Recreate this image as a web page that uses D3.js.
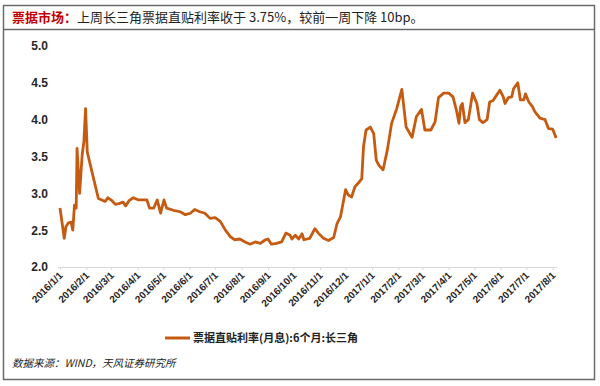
<!DOCTYPE html>
<html><head><meta charset="utf-8">
<script src="https://cdn.jsdelivr.net/npm/d3@7"></script>
<style>
body{margin:0;background:#fff;}
svg{display:block;}
</style></head>
<body>
<svg id="c" width="600" height="386"></svg>
<script>
const dates = ["2016-01-01","2016-01-06","2016-01-08","2016-01-11","2016-01-14","2016-01-16","2016-01-18","2016-01-20","2016-01-21","2016-01-24","2016-01-27","2016-01-29","2016-01-31","2016-02-02","2016-02-15","2016-02-19","2016-02-23","2016-02-26","2016-03-02","2016-03-06","2016-03-10","2016-03-15","2016-03-18","2016-03-22","2016-03-27","2016-04-02","2016-04-12","2016-04-15","2016-04-20","2016-04-24","2016-04-28","2016-05-02","2016-05-05","2016-05-13","2016-05-21","2016-05-27","2016-06-02","2016-06-07","2016-06-13","2016-06-19","2016-06-25","2016-07-01","2016-07-07","2016-07-13","2016-07-19","2016-07-24","2016-07-30","2016-08-05","2016-08-11","2016-08-17","2016-08-23","2016-08-29","2016-09-01","2016-09-05","2016-09-11","2016-09-17","2016-09-22","2016-09-27","2016-09-29","2016-10-03","2016-10-07","2016-10-11","2016-10-13","2016-10-20","2016-10-26","2016-10-30","2016-11-05","2016-11-11","2016-11-17","2016-11-21","2016-11-25","2016-12-01","2016-12-04","2016-12-08","2016-12-12","2016-12-16","2016-12-20","2016-12-22","2016-12-25","2016-12-30","2017-01-03","2017-01-06","2017-01-09","2017-01-14","2017-01-19","2017-01-24","2017-01-30","2017-02-05","2017-02-10","2017-02-17","2017-02-22","2017-02-28","2017-03-04","2017-03-11","2017-03-16","2017-03-20","2017-03-26","2017-04-01","2017-04-06","2017-04-10","2017-04-13","2017-04-15","2017-04-17","2017-04-20","2017-04-24","2017-04-29","2017-05-04","2017-05-07","2017-05-11","2017-05-16","2017-05-19","2017-05-23","2017-05-27","2017-05-31","2017-06-04","2017-06-06","2017-06-10","2017-06-14","2017-06-16","2017-06-21","2017-06-24","2017-06-28","2017-06-30","2017-07-04","2017-07-08","2017-07-11","2017-07-17","2017-07-23","2017-07-27","2017-08-01","2017-08-05"];
const rates = [2.80,2.39,2.55,2.60,2.61,2.50,2.84,2.80,3.61,3.00,3.52,3.70,4.15,3.56,2.93,2.91,2.89,2.94,2.90,2.85,2.86,2.88,2.83,2.90,2.94,2.91,2.91,2.80,2.80,2.91,2.73,2.91,2.80,2.77,2.75,2.71,2.73,2.78,2.75,2.73,2.66,2.67,2.62,2.50,2.41,2.37,2.38,2.34,2.31,2.34,2.32,2.37,2.38,2.31,2.32,2.34,2.46,2.43,2.38,2.43,2.38,2.45,2.37,2.39,2.52,2.46,2.39,2.36,2.40,2.59,2.68,3.05,2.98,2.95,3.09,3.14,3.20,3.63,3.86,3.90,3.81,3.45,3.38,3.32,3.59,3.95,4.15,4.41,3.90,3.76,4.04,4.14,3.86,3.86,3.97,4.30,4.36,4.36,4.31,4.13,3.95,4.18,4.22,3.96,4.00,4.36,4.22,4.00,3.96,4.00,4.24,4.26,4.33,4.40,4.31,4.22,4.30,4.31,4.42,4.50,4.27,4.27,4.35,4.24,4.18,4.11,4.02,4.00,3.88,3.87,3.75];
const yTicks = [2.0,2.5,3.0,3.5,4.0,4.5,5.0];
const xTickLabels = ["2016/1/1","2016/2/1","2016/3/1","2016/4/1","2016/5/1","2016/6/1","2016/7/1","2016/8/1","2016/9/1","2016/10/1","2016/11/1","2016/12/1","2017/1/1","2017/2/1","2017/3/1","2017/4/1","2017/5/1","2017/6/1","2017/7/1","2017/8/1"];
const titleRed = "票据市场：";
const titleRest = "上周长三角票据直贴利率收于 3.75%，较前一周下降 10bp。";
const legendLabel = "票据直贴利率(月息):6个月:长三角";
const sourceText = "数据来源：WIND，天风证券研究所";

const parse = d3.timeParse("%Y-%m-%d");
const parseTick = d3.timeParse("%Y/%m/%d");
const data = dates.map((d,i)=>({date:parse(d), v:rates[i]}));
const lineColor = "#c55a11";

const svg = d3.select("#c");
// frame
svg.append("rect").attr("x",3.5).attr("y",5.5).attr("width",591).attr("height",374)
  .attr("fill","none").attr("stroke","#6b6b6b").attr("stroke-width",1.5);
svg.append("line").attr("x1",3.5).attr("x2",594.5).attr("y1",29.5).attr("y2",29.5)
  .attr("stroke","#6b6b6b").attr("stroke-width",1.5);

const cjk = "'Noto Sans CJK SC', sans-serif";
const title = svg.append("text").attr("x",12).attr("y",22)
  .attr("font-family",cjk).attr("font-size",13);
title.append("tspan").attr("fill","#c00000").attr("font-weight","bold").text(titleRed);
title.append("tspan").attr("fill","#222").text(titleRest);

const x = d3.scaleTime().domain([parse("2016-01-01"), parse("2017-08-06")]).range([60,557]);
const y = d3.scaleLinear().domain([2,5]).range([267,46]);

// x axis
const xAxis = d3.axisBottom(x)
  .tickValues(xTickLabels.map(parseTick))
  .tickSize(3).tickSizeOuter(0)
  .tickFormat((d,i)=>xTickLabels[i]);
const gx = svg.append("g").attr("transform","translate(0,267)").call(xAxis);
gx.select(".domain").attr("stroke","#d9d9d9").attr("stroke-width",1).attr("d","M58,0.5H557");
gx.selectAll(".tick line").attr("stroke","#d9d9d9");
gx.selectAll(".tick text")
  .attr("font-family","'Liberation Sans', Arial, sans-serif").attr("font-weight","bold")
  .attr("font-size",10).attr("fill","#262626")
  .attr("text-anchor","end").attr("dy",0).attr("y",0)
  .attr("transform","translate(3,9) rotate(-45)");

// y axis
const yAxis = d3.axisLeft(y).tickValues(yTicks).tickSize(0).tickFormat(d3.format(".1f"));
const gy = svg.append("g").attr("transform","translate(48,0)").call(yAxis);
gy.select(".domain").remove();
gy.selectAll(".tick text")
  .attr("font-family","'Liberation Sans', Arial, sans-serif").attr("font-weight","bold")
  .attr("font-size",12).attr("fill","#262626").attr("x",0);

// line
const line = d3.line().x(d=>x(d.date)).y(d=>y(d.v));
svg.append("path").datum(data).attr("d",line).attr("fill","none")
  .attr("stroke",lineColor).attr("stroke-width",2.8).attr("stroke-linejoin","round");

// legend
svg.append("line").attr("x1",165).attr("x2",190).attr("y1",338).attr("y2",338)
  .attr("stroke",lineColor).attr("stroke-width",3);
svg.append("text").attr("x",193).attr("y",342).attr("font-family",cjk)
  .attr("font-weight","bold").attr("font-size",11).attr("fill","#222").text(legendLabel);

// source
svg.append("text").attr("x",12).attr("y",367).attr("font-family",cjk)
  .attr("font-style","italic").attr("font-size",10.5).attr("fill","#222").text(sourceText);
</script>
</body></html>
